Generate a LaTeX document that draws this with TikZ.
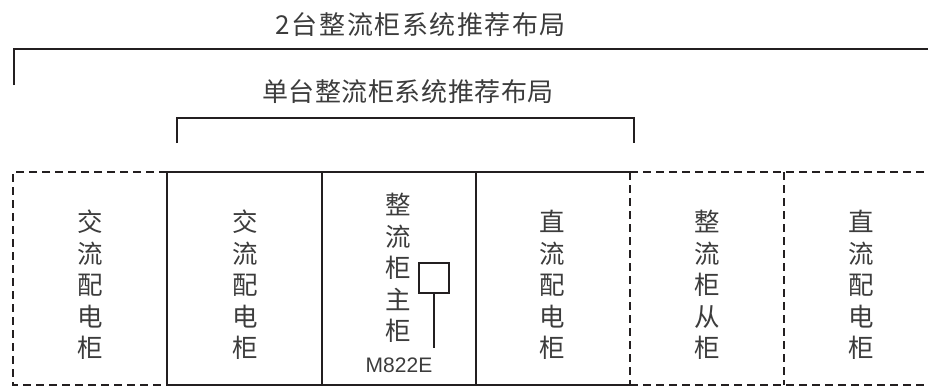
\documentclass[tikz,border=0pt]{standalone}
\usepackage{fontspec}
\setmainfont{Liberation Sans}
\newfontfamily\cjk{Noto Sans CJK SC}
\newfontfamily\cjkwide[LetterSpace=6]{Noto Sans CJK SC}
\newfontfamily\cjknarrow[LetterSpace=2]{Noto Sans CJK SC}
\definecolor{ink}{HTML}{231F20}
\definecolor{txt}{HTML}{3C3C3C}
\tikzset{
	cab/.style={align=center, text=txt, inner sep=0pt, font=\cjk\fontsize{25.5}{31.5}\selectfont},
	title/.style={text=txt, inner sep=0pt, font=\fontsize{26}{26}\selectfont},
	main/.style={draw=ink, line width=2.4pt},
	spare/.style={draw=ink, line width=2.4pt, dash pattern=on 8pt off 5pt},
}
\begin{document}
\begin{tikzpicture}[x=1pt, y=-1pt]
	\useasboundingbox (0,0) rectangle (928,388);
	
	\node[title] (all) at (421,25) {\cjkwide 2台整流柜系统推荐布局};
	\draw[main] (14,85) -- (14,49) -- (940,49);
	\node[title] (single) at (408,92) {\cjknarrow 单台整流柜系统推荐布局};
	\draw[main] (177,143) -- (177,118) -- (634,118) -- (634,143);
	
	% spare cabinets
	\draw[spare] (167,172) -- (13,172) -- (13,385) -- (167,385);
	\draw[spare] (630,172) -- (940,172);
	\draw[spare] (630,385) -- (940,385);
	\draw[spare] (630,172) -- (630,385);
	\draw[spare] (784,172) -- (784,385);
	
	% single system
	\draw[main] (630,172) -- (167,172) -- (167,385) -- (630,385);
	\draw[main] (322,172) -- (322,385);
	\draw[main] (476,172) -- (476,385);
	
	\node[cab] (acone) at (90,285) {交\\流\\配\\电\\柜};
	\node[cab] (actwo) at (245,285) {交\\流\\配\\电\\柜};
	\node[cab] (master) at (398,268) {整\\流\\柜\\主\\柜};
	\node[cab] (dcone) at (552,285) {直\\流\\配\\电\\柜};
	\node[cab] (slave) at (707,285) {整\\流\\柜\\从\\柜};
	\node[cab] (dctwo) at (861,285) {直\\流\\配\\电\\柜};
	
	\node[draw=ink, line width=1.2pt, minimum size=30pt, inner sep=0pt] (ctl) at (434,278) {};
	\node[text=txt, inner sep=0pt, font=\fontsize{21}{21}\selectfont] (ctlname) at (399,365) {M822E};
	\coordinate (ctltail) at (434,348);
	\draw[ink, line width=1.2pt] (ctl.south) -- (ctltail);
	
\end{tikzpicture}
\end{document}
